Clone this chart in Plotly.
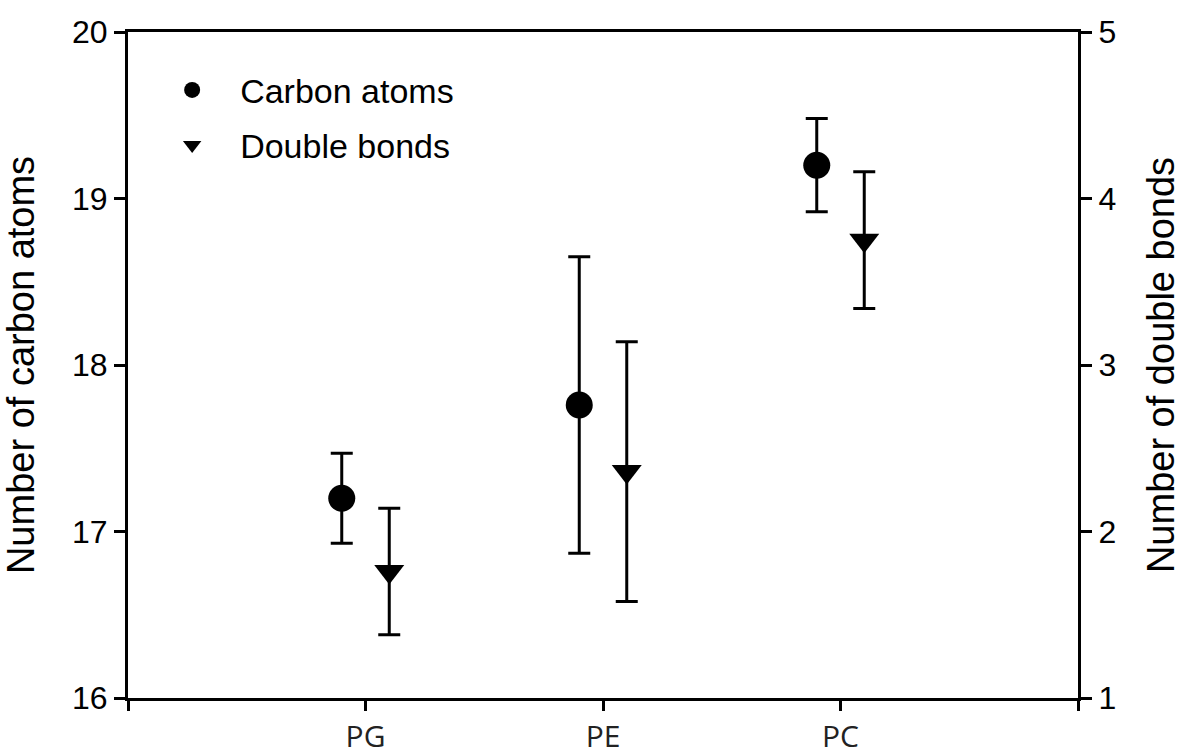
import plotly.graph_objects as go

categories = ["PG", "PE", "PC"]
carbon_mean = [17.20, 17.76, 19.20]
carbon_err = [0.27, 0.89, 0.28]
double_mean = [1.76, 2.36, 3.75]
double_err = [0.38, 0.78, 0.41]

cat_pos = [i + 1 for i in range(len(categories))]
offset = 0.1

fig = go.Figure()
fig.add_trace(go.Scatter(
    x=[p - offset for p in cat_pos], y=carbon_mean, mode="markers",
    name="Carbon atoms", legendgroup="c",
    marker=dict(symbol="circle", size=27, color="black"),
    error_y=dict(type="data", array=carbon_err, color="black", thickness=3, width=11),
    yaxis="y"))
fig.add_trace(go.Scatter(
    x=[p + offset for p in cat_pos], y=double_mean, mode="markers",
    name="Double bonds", legendgroup="d",
    marker=dict(symbol="triangle-down", size=26, color="black"),
    error_y=dict(type="data", array=double_err, color="black", thickness=3, width=11),
    yaxis="y2"))

tick_font = dict(family="Arial, Liberation Sans", size=32, color="black")
title_font = dict(family="Arial, Liberation Sans", size=38, color="black")

fig.update_layout(
    width=1188, height=756,
    margin=dict(l=128, r=110, t=32, b=58),
    paper_bgcolor="white", plot_bgcolor="white",
    showlegend=True,
    legend=dict(x=0.017, y=0.956, xanchor="left", yanchor="top",
                font=dict(family="Arial, Liberation Sans", size=34, color="black"),
                bgcolor="rgba(0,0,0,0)", itemwidth=86, tracegroupgap=8,
                itemsizing="trace"),
    xaxis=dict(range=[0, 4], tickvals=[0, 1, 2, 3, 4],
               ticktext=["", categories[0], categories[1], categories[2], ""],
               showline=True, linecolor="black", linewidth=3, mirror=True,
               ticks="outside", ticklen=10, tickwidth=3, tickcolor="black",
               showgrid=False, zeroline=False, automargin=False,
               tickfont=dict(family="Open Sans", size=30, color="#222")),
    yaxis=dict(range=[16, 20], tickvals=[16, 17, 18, 19, 20],
               showline=True, linecolor="black", linewidth=3,
               ticks="outside", ticklen=11, tickwidth=3, tickcolor="black",
               showgrid=False, zeroline=False, tickfont=tick_font, automargin=False,
               title=dict(text="Number of carbon atoms", font=title_font, standoff=26)),
    yaxis2=dict(range=[1, 5], tickvals=[1, 2, 3, 4, 5], overlaying="y", side="right",
                showline=True, linecolor="black", linewidth=3,
                ticks="outside", ticklen=11, tickwidth=3, tickcolor="black",
                showgrid=False, zeroline=False, tickfont=tick_font, automargin=False,
                title=dict(text="Number of double bonds", font=title_font, standoff=33)),
)

fig.write_html("out.html", config={"displayModeBar": False},
               post_script="document.body.style.margin='0';")
